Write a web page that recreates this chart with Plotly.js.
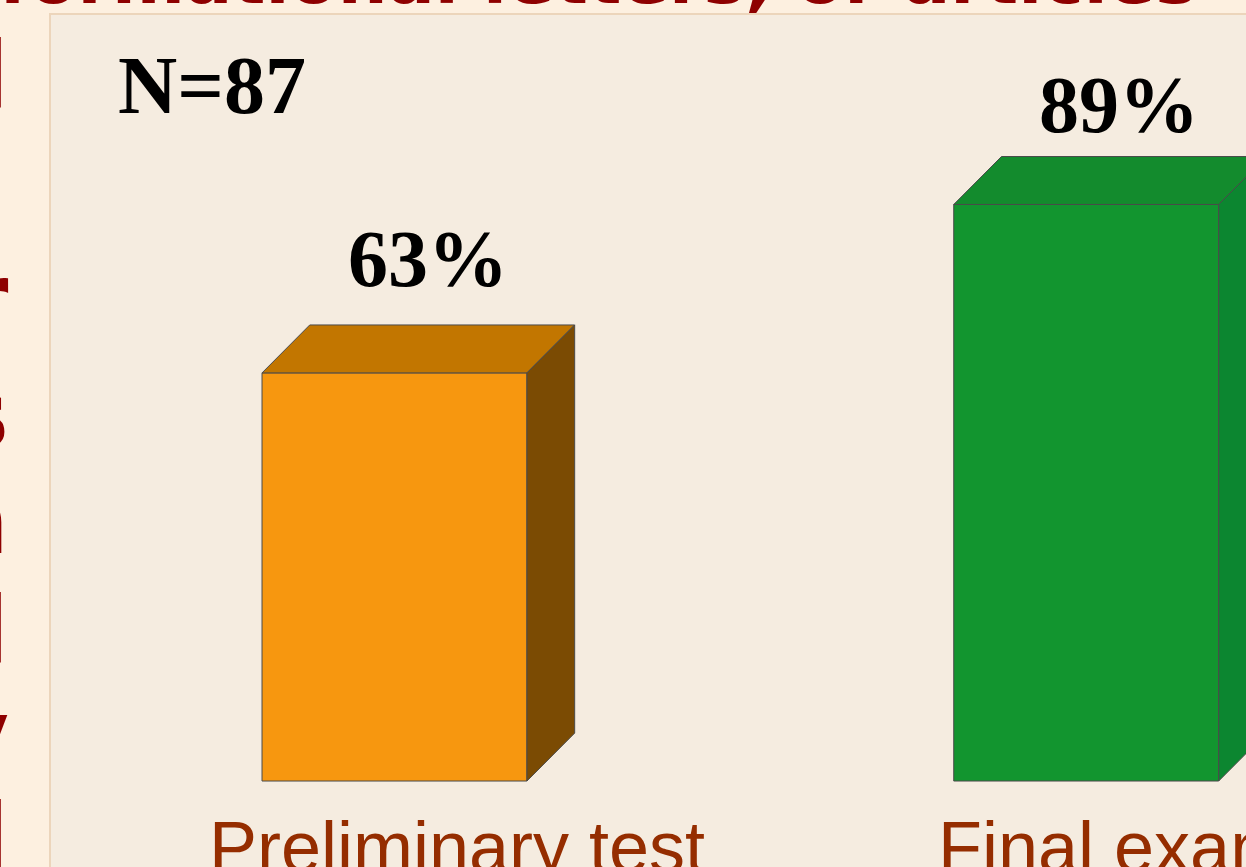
<!DOCTYPE html>
<html>
<head>
<meta charset="utf-8">
<script src="https://cdn.plot.ly/plotly-3.0.1.min.js"></script>
<style>
html,body{margin:0;padding:0;background:#fdf0e0;}
#chart{width:1246px;height:867px;}
</style>
</head>
<body>
<div id="chart"></div>
<script>
// ---- data ----
const categories = ["Preliminary test", "Final exam"];
const values = [63, 89];
const valueLabels = ["63%", "89%"];
const sampleLabel = "N=87";
const titleText = "Informational letters, or articles";
const leftFragments = ["l", "r", "s", "n", "l", "y", "l"];

// ---- style ----
const frontColors = ["#f7970f", "#12952f"];
const topColors = ["#c27600", "#138b2d"];
const sideColors = ["#7b4b03", "#0c8630"];
const edge = "#4a4a4a";
const barWidth = 0.383;
const dx = 0.069;   // depth in x units
const dy = 7.4;     // depth in y units
const valueLabelLift = [17.6, 15.4];   // label placement above bar (style)
const catLabelShift = [18, -17];       // horizontal nudge of category labels (px)
const fragBase = [108, 330, 447, 553, 663, 766, 870]; // baselines of cropped left text lines (px)

const xs = categories.map((c, i) => i);

const traces = [];
traces.push({
  type: "bar", x: xs, y: values, width: barWidth,
  marker: {color: frontColors, line: {color: edge, width: 1}},
  hoverinfo: "skip", showlegend: false
});
xs.forEach((x, i) => {
  const v = values[i];
  const x0 = x - barWidth / 2, x1 = x + barWidth / 2;
  traces.push({
    type: "scatter", mode: "lines", fill: "toself",
    x: [x0, x0 + dx, x1 + dx, x1, x0],
    y: [v, v + dy, v + dy, v, v],
    fillcolor: topColors[i], line: {color: edge, width: 1},
    hoverinfo: "skip", showlegend: false
  });
  traces.push({
    type: "scatter", mode: "lines", fill: "toself",
    x: [x1, x1 + dx, x1 + dx, x1, x1],
    y: [0, dy, v + dy, v, 0],
    fillcolor: sideColors[i], line: {color: edge, width: 1},
    hoverinfo: "skip", showlegend: false
  });
});

const annotations = [];
xs.forEach((x, i) => {
  annotations.push({
    xref: "x", yref: "y", x: x + 0.048, y: values[i] + valueLabelLift[i],
    text: valueLabels[i], showarrow: false, xanchor: "center", yanchor: "middle",
    font: {family: "Liberation Serif, serif", size: 80, color: "#000", weight: "bold"}
  });
  annotations.push({
    xref: "x", yref: "paper", x: x + 0.065, y: 0.0235, xshift: catLabelShift[i],
    text: categories[i], showarrow: false, xanchor: "center", yanchor: "middle",
    font: {family: "Liberation Sans, Arial, sans-serif", size: 72, color: "#952d00"}
  });
});
annotations.push({
  xref: "paper", yref: "paper", x: 0.0552, y: 0.9164,
  text: sampleLabel, showarrow: false, xanchor: "left", yanchor: "middle",
  font: {family: "Liberation Serif, serif", size: 82, color: "#000", weight: "bold"}
});
// cropped title at the top
annotations.push({
  xref: "paper", yref: "paper", x: -0.108, y: 1.0405,
  text: titleText, showarrow: false, xanchor: "left", yanchor: "middle",
  font: {family: "DejaVu Sans, sans-serif", size: 70, color: "#8e0000", weight: "bold"}
});
// cropped left text column (right ends of lines)
leftFragments.forEach((t, k) => {
  const mid = fragBase[k] - 32;
  annotations.push({
    xref: "paper", yref: "paper", x: -0.033, y: 1 - (mid - 14) / 853,
    text: t, showarrow: false, xanchor: "right", yanchor: "middle",
    font: {family: "DejaVu Sans, sans-serif", size: 92, color: "#8e0000", weight: "bold"}
  });
});

const layout = {
  width: 1246, height: 867,
  margin: {l: 50, r: 0, t: 14, b: 0, pad: 0},
  paper_bgcolor: "#fdf0e0",
  plot_bgcolor: "#f5ece0",
  xaxis: {range: [-0.498, 1.231], visible: false, fixedrange: true},
  yaxis: {range: [-13.27, 118.4], visible: false, fixedrange: true},
  showlegend: false,
  annotations: annotations,
  shapes: [{
    type: "rect", xref: "paper", yref: "paper", x0: 0, x1: 1.01, y0: -0.01, y1: 1,
    line: {color: "#ecd5bb", width: 2}, fillcolor: "rgba(0,0,0,0)", layer: "below"
  }]
};

Plotly.newPlot("chart", traces, layout, {displayModeBar: false, staticPlot: true});
</script>
</body>
</html>
